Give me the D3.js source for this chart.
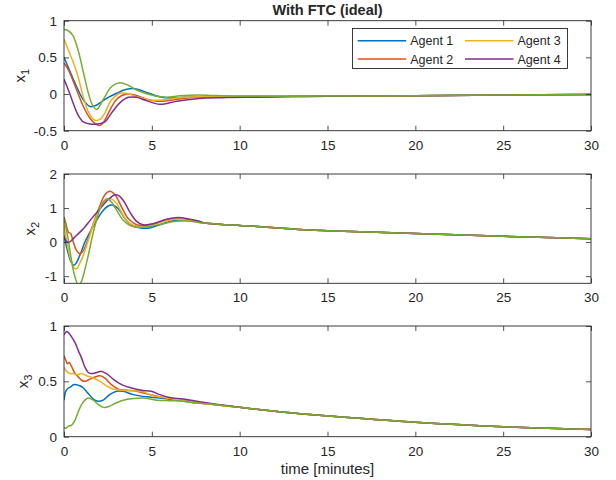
<!DOCTYPE html>
<html><head><meta charset="utf-8">
<script src="https://cdn.jsdelivr.net/npm/d3@7"></script>
<style>
body{margin:0;background:#fff}
text{font-family:"Liberation Sans",Arial,Helvetica,sans-serif;fill:#262626}
</style>
</head><body><svg id="c" width="616" height="480"></svg>
<script>
// ---------- data (time in minutes, value) ----------
const agentNames = ["Agent 1","Agent 2","Agent 3","Agent 4"];
const colors = ["#0072BD","#D95319","#EDB120","#7E2F8E","#77AC30"];
const xTicks = [0,5,10,15,20,25,30];
const x1Ticks = [-0.5,0,0.5,1];
const x2Ticks = [-1,0,1,2];
const x3Ticks = [0,0.5,1];

// state x1
const x1_agent1 = [[0,0.5],[0.23,0.37],[0.72,0.1],[1.1,-0.08],[1.48,-0.17],[1.86,-0.15],[2.42,-0.06],[3.0,0.01],[3.56,0.064],[4.03,0.073],[4.5,0.04],[5.27,-0.027],[6.0,-0.055],[6.8,-0.045],[7.7,-0.036],[10,-0.035],[15,-0.03],[20,-0.022],[25,-0.014],[30,-0.008]];
const x1_agent2 = [[0,0.42],[0.25,0.33],[0.72,0.055],[1.1,-0.17],[1.48,-0.33],[1.75,-0.4],[2.0,-0.43],[2.2,-0.4],[2.42,-0.31],[3.0,-0.07],[3.56,0.0],[4.03,-0.014],[4.7,-0.07],[5.45,-0.1],[6.2,-0.08],[7.16,-0.05],[8,-0.04],[10,-0.035],[15,-0.03],[20,-0.022],[25,-0.014],[30,-0.008]];
const x1_agent3 = [[0,0.745],[0.25,0.6],[0.72,0.3],[1.1,-0.036],[1.38,-0.24],[1.65,-0.34],[1.86,-0.36],[2.1,-0.335],[2.3,-0.27],[2.7,-0.08],[3.18,0.01],[3.56,0.01],[4.13,-0.036],[4.9,-0.08],[5.64,-0.08],[6.8,-0.045],[8,-0.035],[10,-0.033],[15,-0.03],[20,-0.022],[25,-0.014],[30,-0.008]];
const x1_agent4 = [[0,0.2],[0.25,0.055],[0.53,-0.13],[0.81,-0.29],[1.1,-0.38],[1.48,-0.41],[1.86,-0.41],[2.33,-0.38],[2.7,-0.26],[3.18,-0.12],[3.66,-0.045],[4.13,-0.045],[4.7,-0.09],[5.45,-0.14],[6.4,-0.1],[7.7,-0.06],[9,-0.05],[10.5,-0.045],[13,-0.035],[15,-0.03],[20,-0.022],[25,-0.014],[30,-0.008]];
const x1_other  = [[0,0.88],[0.2,0.87],[0.5,0.8],[0.8,0.6],[1.1,0.3],[1.4,0.0],[1.62,-0.15],[1.86,-0.21],[2.22,-0.08],[2.7,0.1],[3.17,0.155],[3.65,0.12],[4.13,0.055],[5.08,-0.02],[5.8,-0.045],[6.6,-0.025],[7.6,-0.012],[8.5,-0.02],[10,-0.028],[15,-0.028],[20,-0.022],[25,-0.014],[30,-0.008]];

// state x2
const x2_late = [[8,0.56],[9,0.52],[10,0.49],[11,0.46],[12,0.42],[13.4,0.37],[15,0.335],[20,0.25],[25,0.17],[30,0.1]];
const x2_agent1 = [[0,0.2],[0.2,-0.25],[0.4,-0.58],[0.57,-0.68],[0.72,-0.59],[0.9,-0.39],[1.19,0],[1.48,0.29],[1.86,0.64],[2.23,0.93],[2.6,1.08],[2.8,1.08],[3.09,0.98],[3.47,0.69],[3.84,0.49],[4.3,0.42],[4.8,0.41],[5.45,0.51],[6.2,0.63],[6.97,0.65],[7.7,0.59]].concat(x2_late);
const x2_agent2 = [[0,0.74],[0.11,0.54],[0.25,0.29],[0.38,0.25],[0.53,0],[0.72,-0.25],[0.9,-0.34],[1.1,-0.25],[1.38,0.1],[1.67,0.54],[2.05,1.08],[2.33,1.39],[2.6,1.49],[2.9,1.39],[3.28,1.03],[3.66,0.69],[4.13,0.51],[4.7,0.49],[5.45,0.59],[6.2,0.67],[6.97,0.66],[7.7,0.59]].concat(x2_late);
const x2_agent3 = [[0,0.49],[0.2,-0.1],[0.4,-0.55],[0.6,-0.77],[0.75,-0.77],[0.9,-0.62],[1.1,-0.39],[1.38,0.05],[1.76,0.64],[2.14,1.1],[2.52,1.27],[2.7,1.27],[3.0,1.13],[3.37,0.78],[3.75,0.54],[4.22,0.46],[4.8,0.46],[5.55,0.59],[6.3,0.67],[7.06,0.64],[7.7,0.59]].concat(x2_late);
const x2_agent4 = [[0,0.15],[0.15,0.02],[0.3,0],[0.49,0.08],[0.72,0.2],[1.1,0.39],[1.57,0.69],[2.05,0.98],[2.52,1.25],[2.9,1.39],[3.09,1.37],[3.37,1.23],[3.75,0.88],[4.13,0.61],[4.5,0.51],[5.08,0.54],[5.83,0.67],[6.5,0.72],[7.16,0.67],[7.7,0.61]].concat(x2_late);
const x2_other  = [[0,0.69],[0.2,0.2],[0.4,-0.45],[0.6,-0.98],[0.8,-1.24],[0.95,-1.2],[1.1,-0.98],[1.38,-0.39],[1.67,0.29],[2.05,0.98],[2.3,1.22],[2.45,1.27],[2.7,1.18],[3.0,0.93],[3.37,0.64],[3.75,0.49],[4.3,0.43],[4.9,0.46],[5.64,0.54],[6.4,0.61],[7.16,0.61],[7.7,0.57]].concat(x2_late);

// state x3
const x3_late = [[8,0.3],[10,0.265],[12,0.23],[14,0.2],[17,0.165],[20,0.13],[25,0.09],[30,0.065]];
const x3_agent1 = [[0,0.33],[0.1,0.41],[0.25,0.44],[0.38,0.45],[0.53,0.47],[0.72,0.47],[0.9,0.46],[1.1,0.44],[1.38,0.39],[1.67,0.34],[1.95,0.32],[2.23,0.33],[2.6,0.38],[3.0,0.41],[3.37,0.41],[3.94,0.38],[4.7,0.36],[5.45,0.35],[6.4,0.33],[7.3,0.31]].concat(x3_late);
const x3_agent2 = [[0,0.73],[0.1,0.69],[0.19,0.66],[0.3,0.67],[0.44,0.63],[0.63,0.57],[0.81,0.54],[1.0,0.51],[1.19,0.5],[1.48,0.52],[1.76,0.54],[2.05,0.55],[2.33,0.53],[2.7,0.47],[3.09,0.43],[3.56,0.42],[4.13,0.41],[4.9,0.38],[5.64,0.355],[6.8,0.33],[7.5,0.31]].concat(x3_late);
const x3_agent3 = [[0,0.63],[0.15,0.59],[0.34,0.57],[0.53,0.57],[0.72,0.56],[1.0,0.57],[1.29,0.55],[1.67,0.53],[2.05,0.5],[2.42,0.46],[2.8,0.43],[3.28,0.42],[3.84,0.415],[4.41,0.41],[5.08,0.37],[5.83,0.35],[6.8,0.325],[7.5,0.31]].concat(x3_late);
const x3_agent4 = [[0,0.92],[0.15,0.95],[0.25,0.94],[0.44,0.9],[0.63,0.85],[0.81,0.78],[1.0,0.71],[1.19,0.63],[1.38,0.58],[1.57,0.57],[1.86,0.58],[2.14,0.59],[2.42,0.57],[2.8,0.52],[3.28,0.47],[3.84,0.44],[4.41,0.42],[4.98,0.41],[5.45,0.38],[6.0,0.355],[6.8,0.34],[7.7,0.315]].concat(x3_late.slice(1));
const x3_other  = [[0,0.085],[0.1,0.075],[0.25,0.096],[0.44,0.105],[0.63,0.15],[0.81,0.225],[1.0,0.29],[1.19,0.33],[1.38,0.35],[1.67,0.33],[1.95,0.29],[2.23,0.265],[2.52,0.27],[2.9,0.3],[3.37,0.33],[3.94,0.345],[4.5,0.35],[5.27,0.33],[6.0,0.325],[6.8,0.32],[7.5,0.305]].concat(x3_late);

// ---------- layout ----------
const svg = d3.select("#c");
const X0 = 64, X1 = 591;
const x = d3.scaleLinear().domain([0,30]).range([X0,X1]);
const axisColor = "#262626";

const panels = [
  {name:"1", top:20.7, bottom:130.7, domain:[-0.5,1], ticks:x1Ticks, labelX:25,
   series:[x1_agent1,x1_agent2,x1_agent3,x1_agent4,x1_other]},
  {name:"2", top:174, bottom:283.3, domain:[-1.21,2], ticks:x2Ticks, labelX:35,
   series:[x2_agent1,x2_agent2,x2_agent3,x2_agent4,x2_other]},
  {name:"3", top:326, bottom:436.7, domain:[0,1], ticks:x3Ticks, labelX:28,
   series:[x3_agent1,x3_agent2,x3_agent3,x3_agent4,x3_other]}
];

panels.forEach((p,i)=>{
  const y = d3.scaleLinear().domain(p.domain).range([p.bottom,p.top]);
  const g = svg.append("g");
  const clipId = "clip"+i;
  svg.append("clipPath").attr("id",clipId).append("rect")
    .attr("x",X0).attr("y",p.top).attr("width",X1-X0).attr("height",p.bottom-p.top);

  const line = d3.line().x(d=>x(d[0])).y(d=>y(d[1])).curve(d3.curveCatmullRom.alpha(0.5));
  const lg = g.append("g").attr("clip-path",`url(#${clipId})`);
  p.series.forEach((s,k)=>{
    lg.append("path").datum(s).attr("d",line)
      .attr("fill","none").attr("stroke",colors[k]).attr("stroke-width",1.5)
      .attr("stroke-linejoin","round");
  });

  // axes
  const fmt = d=>String(d);
  const ax = [
    g.append("g").attr("transform",`translate(0,${p.bottom})`)
      .call(d3.axisBottom(x).tickValues(xTicks).tickSize(-5).tickPadding(9.5).tickFormat(fmt)),
    g.append("g").attr("transform",`translate(0,${p.top})`)
      .call(d3.axisTop(x).tickValues(xTicks).tickSize(-5).tickFormat("")),
    g.append("g").attr("transform",`translate(${X0},0)`)
      .call(d3.axisLeft(y).tickValues(p.ticks).tickSize(-5).tickPadding(7).tickFormat(fmt)),
    g.append("g").attr("transform",`translate(${X1},0)`)
      .call(d3.axisRight(y).tickValues(p.ticks).tickSize(-5).tickFormat(""))
  ];
  ax.forEach(a=>{
    a.select(".domain").remove();
    a.selectAll("line").attr("stroke",axisColor).attr("stroke-width",0.8);
    a.selectAll("text").attr("fill",axisColor).style("font-size","13.5px")
      .style("font-family",'"Liberation Sans",Arial,sans-serif');
  });
  g.append("rect").attr("x",X0).attr("y",p.top).attr("width",X1-X0).attr("height",p.bottom-p.top)
    .attr("fill","none").attr("stroke",axisColor).attr("stroke-width",0.9);

  // y label
  const cy = (p.top+p.bottom)/2;
  const t = svg.append("text").attr("transform",`translate(${p.labelX},${cy}) rotate(-90)`)
    .attr("text-anchor","middle").style("font-size","15px");
  t.append("tspan").text("x");
  t.append("tspan").attr("dy",3.5).style("font-size","11px").text(p.name);

  if(i===0){
    // legend
    const L = svg.append("g");
    L.append("rect").attr("x",352.5).attr("y",28.5).attr("width",215).attr("height",40)
      .attr("fill","#fff").attr("stroke",axisColor).attr("stroke-width",0.9);
    const pos = [[357.7,40.7],[357.7,59],[465,40.7],[465,59]];
    agentNames.forEach((n,k)=>{
      const [lx,ly] = pos[k];
      L.append("line").attr("x1",lx).attr("x2",lx+48.5).attr("y1",ly).attr("y2",ly)
        .attr("stroke",colors[k]).attr("stroke-width",1.5);
      L.append("text").attr("x",lx+52.5).attr("y",ly+4.5).style("font-size","12.5px").text(n);
    });
  }
});

// title and x label
svg.append("text").attr("x",327.5).attr("y",15).attr("text-anchor","middle")
  .style("font-size","14.5px").style("font-weight","bold").text("With FTC (ideal)");
svg.append("text").attr("x",327.5).attr("y",473.5).attr("text-anchor","middle")
  .style("font-size","15px").text("time [minutes]");
</script></body></html>
